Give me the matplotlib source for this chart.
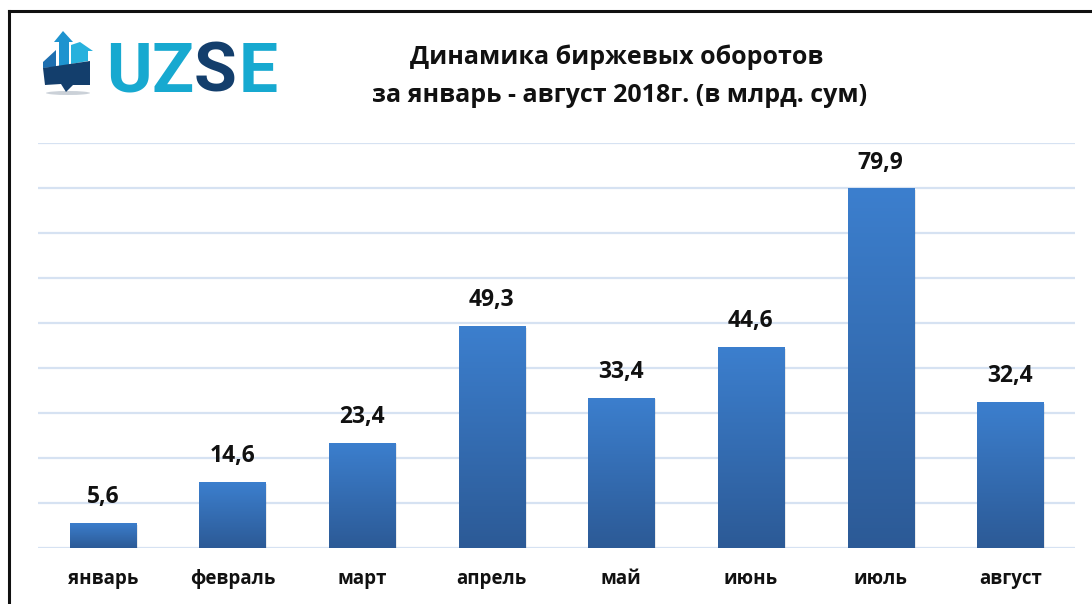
import matplotlib
matplotlib.use("Agg")
import matplotlib.pyplot as plt
import numpy as np
from matplotlib.patches import Rectangle, Polygon, Ellipse
from matplotlib.colors import LinearSegmentedColormap

months = ["январь", "февраль", "март", "апрель", "май", "июнь", "июль", "август"]
values = [5.6, 14.6, 23.4, 49.3, 33.4, 44.6, 79.9, 32.4]
value_labels = ["5,6", "14,6", "23,4", "49,3", "33,4", "44,6", "79,9", "32,4"]
title_lines = ["Динамика биржевых оборотов", "за январь - август 2018г. (в млрд. сум)"]

FAM = ["Open Sans", "DejaVu Sans"]

W, H = 1092, 604
fig = plt.figure(figsize=(W / 100, H / 100), dpi=100)
fig.patch.set_facecolor("white")

def fx(x):
    return x / W

def fy(y):
    return 1 - y / H

# frame
fig.add_artist(plt.Line2D([fx(9), fx(9)], [fy(11), fy(610)], color="#111111", lw=2.2))
fig.add_artist(plt.Line2D([fx(9), fx(1100)], [fy(11), fy(11)], color="#111111", lw=2.2))

ax = fig.add_axes([fx(38), fy(548), fx(1075) - fx(38), (548 - 143) / H])
x = np.arange(len(months))
cmap = LinearSegmentedColormap.from_list("g", ["#2C5A96", "#3C7FCE"])
bars = ax.bar(x, values, width=0.51, color="#3470B6", zorder=3)
for b in bars:
    bx, by = b.get_x(), b.get_y()
    bw, bh = b.get_width(), b.get_height()
    ax.add_patch(Rectangle((bx + 0.015, by - 0.4), bw, bh, color="#000000", alpha=0.08, zorder=2, lw=0))
    grad = np.linspace(0, 1, 256).reshape(-1, 1)
    im = ax.imshow(grad, extent=[bx, bx + bw, by, by + bh], origin="lower", cmap=cmap,
                   aspect="auto", zorder=4)
    im.set_clip_path(b)

for xi, v, lab in zip(x, values, value_labels):
    ax.annotate(lab, (xi, v), xytext=(0, 10), textcoords="offset points", ha="center", va="bottom",
                fontsize=16.5, fontweight="bold", family=FAM, color="#111111", zorder=5)

ax.set_xlim(-0.5, len(months) - 0.5)
ax.set_ylim(0, 90)
ax.set_yticks(np.arange(0, 91, 10))
ax.yaxis.grid(True, color="#D6E2F2", lw=1.6, zorder=0)
ax.tick_params(axis="y", left=False, labelleft=False)
ax.set_xticks(x)
ax.set_xticklabels(months, fontsize=13.5, fontweight="bold", family=FAM, color="#111111")
ax.tick_params(axis="x", length=0, pad=15)
for s in ax.spines.values():
    s.set_visible(False)
ax.set_facecolor("none")

# title
fig.text(fx(617), fy(57), title_lines[0], ha="center", va="center", fontsize=18,
         fontweight="bold", family=FAM, color="#111111")
fig.text(fx(620), fy(95), title_lines[1], ha="center", va="center", fontsize=18,
         fontweight="bold", family=FAM, color="#111111")

# logo text
light = "#17A9D0"
navy = "#133E6C"
LOGO_FAM = ["Roboto", "DejaVu Sans"]
for letter, cx, col in [("U", 129, light), ("Z", 173, light), ("S", 215, navy), ("E", 258, light)]:
    fig.text(fx(cx), fy(92), letter, ha="center", va="baseline", fontsize=50, fontweight="bold",
             family=LOGO_FAM, color=col)

def poly(pts, color, alpha=1.0):
    fig.add_artist(Polygon([(fx(a), fy(b)) for a, b in pts], closed=True, color=color,
                           alpha=alpha, lw=0, transform=fig.transFigure))

# logo icon
fig.add_artist(Ellipse((fx(68), fy(93)), fx(44), 4 / H, color="#8C9AAA", alpha=0.45,
                       transform=fig.transFigure, lw=0))
poly([(71, 45), (80, 42), (93, 51), (88, 51), (88, 61), (71, 64)], "#27B1DD")
poly([(54, 42), (63, 31), (73, 42), (69, 42), (69, 66), (59, 68), (59, 42)], "#1E93CF")
poly([(43, 62), (56, 50), (56, 67), (43, 68)], "#1E6FB0")
poly([(43, 68), (90, 61), (90, 85), (73, 85), (66, 92), (61, 84), (45, 85)], navy)

fig.savefig("out.png", dpi=100, facecolor="white")
